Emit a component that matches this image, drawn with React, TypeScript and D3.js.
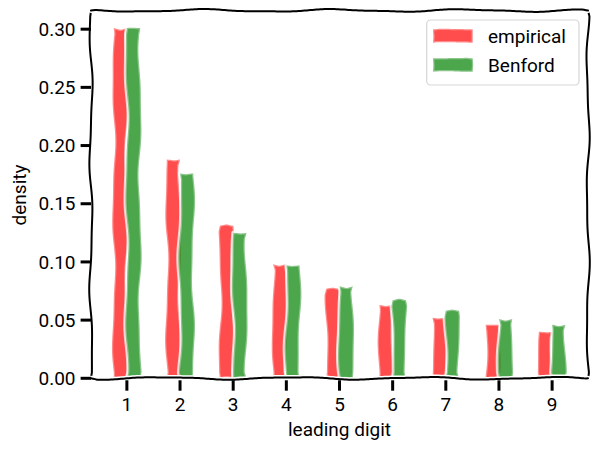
import React from "react";
import * as d3 from "d3";

const digits = [1, 2, 3, 4, 5, 6, 7, 8, 9];
const empirical = [0.301, 0.188, 0.131, 0.098, 0.077, 0.063, 0.052, 0.046, 0.040];
const benford = [0.301, 0.176, 0.125, 0.097, 0.079, 0.067, 0.058, 0.051, 0.046];
const yTicks = [0, 0.05, 0.1, 0.15, 0.2, 0.25, 0.3];
const seriesNames = ["empirical", "Benford"];
const seriesColors = ["#ff0000", "#008000"];

const W = 598;
const H = 451;
const L = 91, R = 588, T = 10.5, B = 378.3;
const FONT = "Roboto, 'DejaVu Sans', sans-serif";
const FS = 19;

type Pt = [number, number];

function phase(seed: number, k: number): number {
  const v = Math.sin(seed * 12.9898 + k * 78.233) * 43758.5453;
  return (v - Math.floor(v)) * Math.PI * 2;
}

function sketch(pts: Pt[], seed: number, amp = 1.2, closed = false): string {
  const p = closed ? [...pts, pts[0]] : pts;
  const p1 = phase(seed, 1), p2 = phase(seed, 2);
  let s = 0;
  const out: string[] = [];
  for (let i = 0; i < p.length - 1; i++) {
    const [x0, y0] = p[i];
    const [x1, y1] = p[i + 1];
    const dx = x1 - x0, dy = y1 - y0;
    const len = Math.hypot(dx, dy) || 1;
    const nx = -dy / len, ny = dx / len;
    const n = Math.max(1, Math.ceil(len / 2));
    for (let j = 0; j <= n; j++) {
      if (i > 0 && j === 0) continue;
      const t = j / n;
      const ss = s + t * len;
      const env = Math.min(1, (t * len) / 6, ((1 - t) * len) / 6);
      const off = env * amp * (0.75 * Math.sin((2 * Math.PI * ss) / 130 + p1) + 0.25 * Math.sin((2 * Math.PI * ss) / 61 + p2));
      const x = x0 + dx * t + nx * off;
      const y = y0 + dy * t + ny * off;
      out.push(`${out.length === 0 ? "M" : "L"}${x.toFixed(2)},${y.toFixed(2)}`);
    }
    s += len;
  }
  return out.join("") + (closed ? "Z" : "");
}

export default function App() {
  const x = d3.scaleLinear().domain([0.325, 9.675]).range([L, R]);
  const y = d3.scaleLinear().domain([0, 0.31605]).range([B, T]);
  const fmt = d3.format(".2f");
  const bw = 0.25;
  const series = [empirical, benford];

  const bars: React.ReactElement[] = [];
  digits.forEach((d, i) => {
    series.forEach((vals, si) => {
      const x0 = x(d - bw + si * bw);
      const x1 = x(d + si * bw);
      const y0 = y(0);
      const y1 = y(vals[i]);
      const path = sketch([[x0, y0], [x0, y1], [x1, y1], [x1, y0]], i * 10 + si + 3, 1.8, true);
      bars.push(
        <g key={`b${i}-${si}`}>
          <path d={path} fill="none" stroke="#fff" strokeOpacity={0.7} strokeWidth={4} strokeLinejoin="round" />
          <path d={path} fill={seriesColors[si]} fillOpacity={0.7} stroke="#fff" strokeOpacity={0.35} strokeWidth={2.5} strokeLinejoin="round" />
        </g>
      );
    });
  });

  const spines = [
    sketch([[L, B], [L, T]], 101, 1.8),
    sketch([[R, B], [R, T]], 102, 1.8),
    sketch([[L, T], [R, T]], 103, 1.5),
    sketch([[L, B], [R, B]], 104, 1.5),
  ];

  return (
    <svg width={W} height={H} viewBox={`0 0 ${W} ${H}`} style={{ position: "absolute", left: 0, top: 0, background: "#fff" }} fontFamily={FONT}>
      <rect x={0} y={0} width={W} height={H} fill="#fff" />
      {bars}
      {spines.map((d, i) => (
        <g key={`s${i}`}>
          <path d={d} fill="none" stroke="#fff" strokeWidth={5} strokeLinecap="round" />
          <path d={d} fill="none" stroke="#000" strokeWidth={2} strokeLinecap="round" />
        </g>
      ))}
      {yTicks.map((t, i) => (
        <g key={`yt${i}`}>
          <line x1={L - 10.4} x2={L} y1={y(t)} y2={y(t)} stroke="#000" strokeWidth={3} />
          <text x={L - 15.5} y={y(t)} dy="0.35em" textAnchor="end" fontSize={FS} fill="#000">
            {fmt(t)}
          </text>
        </g>
      ))}
      {digits.map((d) => (
        <g key={`xt${d}`}>
          <line x1={x(d)} x2={x(d)} y1={B + 2} y2={B + 12.4} stroke="#000" strokeWidth={3} />
          <text x={x(d)} y={411} textAnchor="middle" fontSize={FS} fill="#000">
            {d}
          </text>
        </g>
      ))}
      <text x={(L + R) / 2} y={436} textAnchor="middle" fontSize={FS} fill="#000">
        leading digit
      </text>
      <text transform={`translate(26,${195}) rotate(-90)`} textAnchor="middle" fontSize={FS} fill="#000">
        density
      </text>
      <g>
        <rect x={426.7} y={20} width={152.3} height={65} rx={4} fill="#fff" fillOpacity={0.8} stroke="#d6d6d6" strokeWidth={1.2} />
        {seriesNames.map((n, i) => {
          const cy = 36 + i * 29;
          const path = sketch([[433, cy - 6.7], [472.7, cy - 6.7], [472.7, cy + 6.7], [433, cy + 6.7]], 200 + i, 0.6, true);
          return (
            <g key={`lg${i}`}>
              <path d={path} fill={seriesColors[i]} fillOpacity={0.7} stroke="#fff" strokeOpacity={0.35} strokeWidth={2.5} />
              <text x={488} y={cy} dy="0.35em" fontSize={FS} fill="#000">
                {n}
              </text>
            </g>
          );
        })}
      </g>
    </svg>
  );
}
